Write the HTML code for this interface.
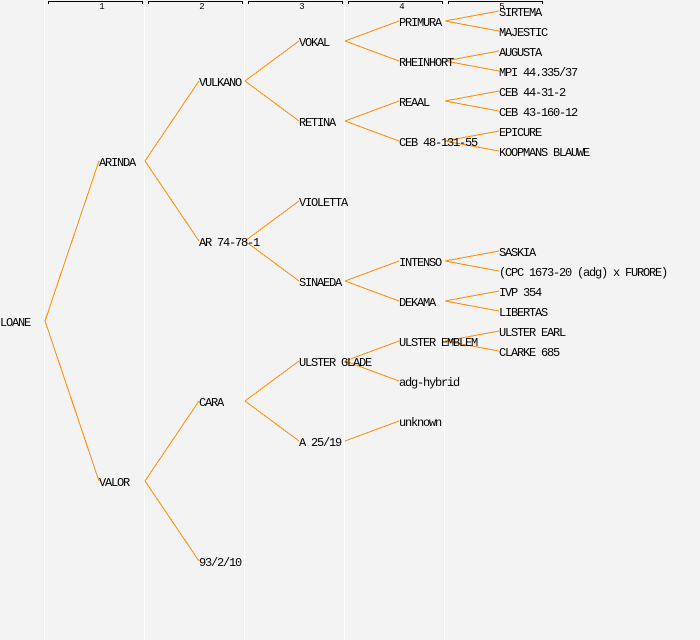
<!DOCTYPE html>
<html><head><meta charset="utf-8"><style>
html,body{margin:0;padding:0;background:#f3f3f3}
svg{display:block}
text{font-family:"Liberation Mono",monospace;font-size:12px;letter-spacing:-1.2px;fill:#000}
text.h{font-size:9px;letter-spacing:0;text-anchor:middle}
line,path{shape-rendering:crispEdges}
</style></head><body>
<svg width="700" height="640" viewBox="0 0 700 640" xmlns="http://www.w3.org/2000/svg">
<rect width="700" height="640" fill="#f3f3f3"/>
<g fill="#fff"><rect x="44" y="0" width="1" height="640"/><rect x="144" y="0" width="1" height="640"/><rect x="244" y="0" width="1" height="640"/><rect x="344" y="0" width="1" height="640"/><rect x="444" y="0" width="1" height="640"/></g>
<g fill="none" stroke="#000" stroke-width="1">
<path d="M48.5 4V1.5H142.5V4"/><path d="M148.5 4V1.5H242.5V4"/><path d="M248.5 4V1.5H342.5V4"/><path d="M348.5 4V1.5H442.5V4"/><path d="M448.5 4V1.5H542.5V4"/>
</g>
<text class="h" x="102" y="9">1</text><text class="h" x="202" y="9">2</text><text class="h" x="302" y="9">3</text><text class="h" x="402" y="9">4</text><text class="h" x="502" y="9">5</text>
<g stroke="#ff8c00" stroke-width="1">
<line x1="45" y1="321" x2="99" y2="161"/><line x1="45" y1="321" x2="99" y2="481"/>
<line x1="145" y1="161" x2="199" y2="81"/><line x1="145" y1="161" x2="199" y2="241"/>
<line x1="145" y1="481" x2="199" y2="401"/><line x1="145" y1="481" x2="199" y2="561"/>
<line x1="245" y1="81" x2="299" y2="41"/><line x1="245" y1="81" x2="299" y2="121"/>
<line x1="245" y1="241" x2="299" y2="201"/><line x1="245" y1="241" x2="299" y2="281"/>
<line x1="245" y1="401" x2="299" y2="361"/><line x1="245" y1="401" x2="299" y2="441"/>
<line x1="345" y1="41" x2="399" y2="21"/><line x1="345" y1="41" x2="399" y2="61"/>
<line x1="345" y1="121" x2="399" y2="101"/><line x1="345" y1="121" x2="399" y2="141"/>
<line x1="345" y1="281" x2="399" y2="261"/><line x1="345" y1="281" x2="399" y2="301"/>
<line x1="345" y1="361" x2="399" y2="341"/><line x1="345" y1="361" x2="399" y2="381"/>
<line x1="345" y1="441" x2="399" y2="421"/>
<line x1="445" y1="21" x2="499" y2="11"/><line x1="445" y1="21" x2="499" y2="31"/>
<line x1="445" y1="61" x2="499" y2="51"/><line x1="445" y1="61" x2="499" y2="71"/>
<line x1="445" y1="101" x2="499" y2="91"/><line x1="445" y1="101" x2="499" y2="111"/>
<line x1="445" y1="141" x2="499" y2="131"/><line x1="445" y1="141" x2="499" y2="151"/>
<line x1="445" y1="261" x2="499" y2="251"/><line x1="445" y1="261" x2="499" y2="271"/>
<line x1="445" y1="301" x2="499" y2="291"/><line x1="445" y1="301" x2="499" y2="311"/>
<line x1="445" y1="341" x2="499" y2="331"/><line x1="445" y1="341" x2="499" y2="351"/>
</g>
<text x="0" y="326">LOANE</text>
<text x="99" y="166">ARINDA</text>
<text x="99" y="486">VALOR</text>
<text x="199" y="86">VULKANO</text>
<text x="199" y="246">AR 74-78-1</text>
<text x="199" y="406">CARA</text>
<text x="199" y="566">93/2/10</text>
<text x="299" y="46">VOKAL</text>
<text x="299" y="126">RETINA</text>
<text x="299" y="206">VIOLETTA</text>
<text x="299" y="286">SINAEDA</text>
<text x="299" y="366">ULSTER GLADE</text>
<text x="299" y="446">A 25/19</text>
<text x="399" y="26">PRIMURA</text>
<text x="399" y="66">RHEINHORT</text>
<text x="399" y="106">REAAL</text>
<text x="399" y="146">CEB 48-131-55</text>
<text x="399" y="266">INTENSO</text>
<text x="399" y="306">DEKAMA</text>
<text x="399" y="346">ULSTER EMBLEM</text>
<text x="399" y="386">adg-hybrid</text>
<text x="399" y="426">unknown</text>
<text x="499" y="16">SIRTEMA</text>
<text x="499" y="36">MAJESTIC</text>
<text x="499" y="56">AUGUSTA</text>
<text x="499" y="76">MPI 44.335/37</text>
<text x="499" y="96">CEB 44-31-2</text>
<text x="499" y="116">CEB 43-160-12</text>
<text x="499" y="136">EPICURE</text>
<text x="499" y="156">KOOPMANS BLAUWE</text>
<text x="499" y="256">SASKIA</text>
<text x="499" y="276">(CPC 1673-20 (adg) x FURORE)</text>
<text x="499" y="296">IVP 354</text>
<text x="499" y="316">LIBERTAS</text>
<text x="499" y="336">ULSTER EARL</text>
<text x="499" y="356">CLARKE 685</text>
</svg>
</body></html>
